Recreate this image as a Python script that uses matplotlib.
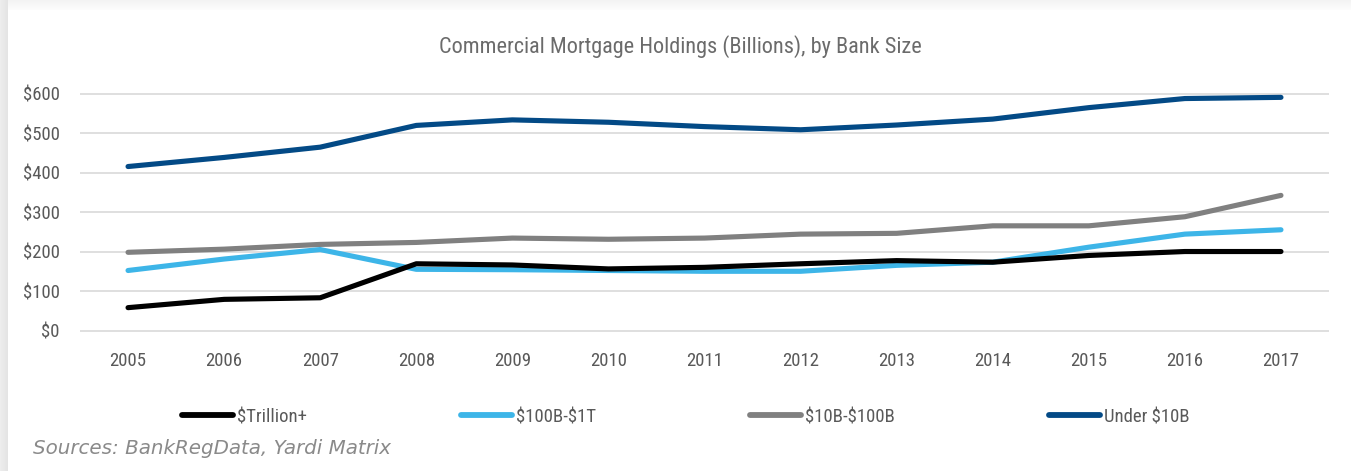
import numpy as np
import matplotlib
matplotlib.use("Agg")
import matplotlib.pyplot as plt
from matplotlib import font_manager
from matplotlib.lines import Line2D

years = [2005, 2006, 2007, 2008, 2009, 2010, 2011, 2012, 2013, 2014, 2015, 2016, 2017]
trillion_plus = [59, 80, 84, 170, 167, 157, 161, 170, 178, 174, 191, 201, 201]
b100_to_1t = [153, 182, 206, 156, 155, 153, 151, 151, 166, 174, 212, 245, 256]
b10_to_100b = [199, 207, 219, 224, 235, 232, 235, 245, 247, 266, 266, 289, 343]
under_10b = [416, 439, 465, 520, 534, 528, 517, 509, 521, 536, 565, 588, 591]

series_names = [r"\$Trillion+", r"\$100B-\$1T", r"\$10B-\$100B", r"Under \$10B"]
series_colors = ["#000000", "#3db5e8", "#808080", "#034a86"]
y_ticks = [0, 100, 200, 300, 400, 500, 600]
y_tick_labels = ["$0", "$100", "$200", "$300", "$400", "$500", "$600"]

installed = {f.name for f in font_manager.fontManager.ttflist}
narrow = next((n for n in ["Liberation Sans Narrow", "Roboto Condensed", "Open Sans Condensed",
                           "DejaVu Sans Condensed", "Roboto"] if n in installed), "DejaVu Sans")
cond = [narrow, "DejaVu Sans"]

W, H = 1351, 471
fig = plt.figure(figsize=(W / 100, H / 100), dpi=100)
fig.patch.set_facecolor("white")

# soft card shadow along the top and left edges
bg = fig.add_axes([0, 0, 1, 1])
bg.set_axis_off()
img = np.ones((H, W, 3))
top = 10
left = 8
for r in range(top):
    img[r, :, :] = 0.955 + 0.04 * (r / top)
for c in range(left):
    img[:, c, :] = np.minimum(img[:, c, :], 0.93 - 0.04 * (c / left))
bg.imshow(img, aspect="auto", extent=[0, W, H, 0], interpolation="bilinear")
bg.set_xlim(0, W)
bg.set_ylim(H, 0)

ax = fig.add_axes([80 / W, 1 - 346 / H, (1329 - 80) / W, (346 - 76) / H])
ax.set_facecolor("none")

data = [trillion_plus, b100_to_1t, b10_to_100b, under_10b]
for i in [2, 1, 0, 3]:
    ax.plot(years, data[i], color=series_colors[i], lw=3.7,
            solid_capstyle="round", solid_joinstyle="round", zorder=3)

ax.set_xlim(2005 - 0.5, 2017 + 0.5)
ax.set_ylim(-38, 645)
ax.set_yticks(y_ticks)
ax.set_yticklabels(y_tick_labels)
ax.set_xticks(years)
ax.set_xticklabels([str(y) for y in years])
ax.grid(axis="y", color="#d9d9d9", lw=1.2, zorder=0)
ax.grid(axis="x", visible=False)
for s in ax.spines.values():
    s.set_visible(False)
ax.tick_params(axis="both", length=0, colors="#595959", labelsize=13.5)
ax.tick_params(axis="y", pad=14.4)
ax.tick_params(axis="x", pad=4)
for lab in ax.get_xticklabels() + ax.get_yticklabels():
    lab.set_family(cond)

fig.text(680 / W, 1 - 47 / H, "Commercial Mortgage Holdings (Billions), by Bank Size",
         ha="center", va="center", fontsize=16, color="#6b6b6b", family=cond)

handles = [Line2D([0], [0], color=c, lw=4.2, solid_capstyle="round") for c in series_colors]
leg = fig.legend(handles, series_names, loc="center", bbox_to_anchor=(686 / W, 1 - 417 / H),
                 ncol=4, frameon=False, handlelength=2.7, handletextpad=0.25,
                 columnspacing=8.2, prop={"family": cond, "size": 13.5})
for t in leg.get_texts():
    t.set_color("#595959")

fig.text(33 / W, 1 - 449 / H, "Sources: BankRegData, Yardi Matrix", ha="left", va="center",
         fontsize=14.3, style="italic", color="#8a8a8a", family=["DejaVu Sans"])

fig.savefig("out.png", dpi=100)
